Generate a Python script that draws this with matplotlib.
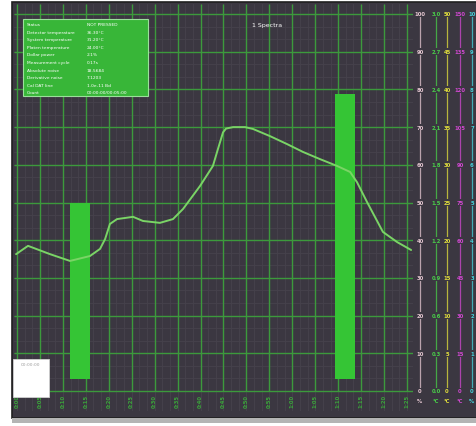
import matplotlib
matplotlib.use("Agg")
import matplotlib.pyplot as plt
from matplotlib.patches import Rectangle
from matplotlib.transforms import blended_transform_factory
import numpy as np

W, H = 477, 427

# trace read along the time axis (x = grid division, y = % of full scale)
curve_x = [-0.04, 0.48, 1.44, 2.31, 3.18, 3.62, 3.84, 4.05, 4.36, 5.06, 5.49, 6.23,
           6.80, 7.24, 7.98, 8.54, 8.76, 8.98, 9.11, 9.42, 9.94, 10.29, 11.03,
           11.77, 12.47, 13.21, 13.95, 14.52, 14.82, 15.26, 15.95, 16.57, 17.18]
curve_y = [36.3, 38.5, 36.3, 34.5, 35.8, 37.7, 40.3, 44.3, 45.6, 46.2, 45.1, 44.6,
           45.6, 48.3, 54.4, 59.7, 64.2, 68.6, 69.6, 70.0, 70.0, 69.5, 67.6,
           65.5, 63.4, 61.5, 59.7, 58.1, 55.4, 50.1, 42.2, 39.5, 37.4]

bar_pos = [2.75, 14.3]
bar_base = [3.2, 3.2]
bar_top = [50.0, 78.8]

x_ticks = list(range(18))
x_labels = ["0:%02d" % (5 * i) if 5 * i < 60 else "1:%02d" % (5 * i - 60) for i in x_ticks]

y_ticks = list(range(0, 101, 10))
scale_pct = [str(v) for v in range(0, 101, 10)]
scale_pwr = ["%.1f" % (0.3 * i) for i in range(11)]
scale_t1 = [str(5 * i) for i in range(11)]
scale_t2 = [str(15 * i) for i in range(11)]
scale_cyan = [str(i) for i in range(11)]

info_labels = ["Status", "Detector temperature", "System temperature",
               "Platen temperature", "Dollar power", "Measurement cycle",
               "Absolute noise", "Derivative noise", "Cal DAT line", "Count"]
info_values = ["NOT PRESSED", "36.30°C", "31.20°C", "24.00°C", "2.1%", "0.17s",
               "18.5684", "7.1203", "1.0e-11 Bd", "00:00:00/00:05:00"]

BG = "#3b3741"
GRID = "#3c9a3c"
BAR = "#35c535"
LINE = "#7ad466"

fig = plt.figure(figsize=(W / 100, H / 100), dpi=100)
fig.patch.set_facecolor("white")

def fbox(x0, y0, x1, y1):
    # pixel box (top-left origin) -> figure fraction rect
    return (x0 / W, 1 - y1 / H, (x1 - x0) / W, (y1 - y0) / H)

# dark panel and bottom strip
r = fbox(12, 3, 477, 419)
fig.patches.append(Rectangle(r[:2], r[2], r[3], transform=fig.transFigure,
                             facecolor=BG, edgecolor="#202020", lw=1.2, zorder=-10))
r = fbox(12, 419, 477, 424)
fig.patches.append(Rectangle(r[:2], r[2], r[3], transform=fig.transFigure,
                             facecolor="#b4b4b4", edgecolor="none", zorder=-10))

ax = fig.add_axes(fbox(14, 5, 413, 412))
ax.set_zorder(1)
ax.set_facecolor(BG)
x_per_px = 1 / 22.94
y_per_px = 1 / 3.77
ax.set_xlim(-3 * x_per_px, 17 + 6 * x_per_px)
ax.set_ylim(-(412 - 392) * y_per_px, 100 + (15 - 5) * y_per_px)
for s in ax.spines.values():
    s.set_visible(False)
ax.set_xticks([])
ax.set_yticks([])

# faint minor grid
for xm in np.arange(-0.0, 17.01, 1 / 3):
    ax.axvline(xm, color="#46424c", lw=0.6, zorder=1)
for ym in np.arange(0, 100.01, 10 / 3):
    ax.axhline(ym, color="#46424c", lw=0.6, zorder=1)

# major grid
ax.vlines(x_ticks, 0, ax.get_ylim()[1], color=GRID, lw=1.0, zorder=2)
ax.hlines(y_ticks, ax.get_xlim()[0], ax.get_xlim()[1], color=GRID, lw=1.0, zorder=2)

# bars
heights = [t - b for t, b in zip(bar_top, bar_base)]
ax.bar(bar_pos, heights, bottom=bar_base, width=0.87, color=BAR, zorder=3)

# trace
ax.plot(curve_x, curve_y, color=LINE, lw=1.4, zorder=4,
        solid_capstyle="round", solid_joinstyle="round")

# time labels under the grid
for xt, lab in zip(x_ticks, x_labels):
    ax.text(xt, -0.8, lab, rotation=90, ha="center", va="top", color="#3aa53a",
            fontsize=3.8, fontweight="bold", zorder=5)

ax.text(10.9, 100 - 11 * y_per_px, "1 Spectra", color="white", fontsize=4.5,
        ha="center", va="center", zorder=5)

# scales on the right
trans = blended_transform_factory(fig.transFigure, ax.transData)
scales = [(420, "#e6c8d2", scale_pct, "%"),
          (436, "#49cf49", scale_pwr, "°C"),
          (447, "#e3e03c", scale_t1, "°C"),
          (460, "#d248d2", scale_t2, "°C"),
          (472, "#45d3db", scale_cyan, "%")]
for px, col, labs, unit in scales:
    fig.add_artist(plt.Line2D([px / W, px / W], [0, 100], transform=trans,
                              color=col, lw=0.9, alpha=0.75))
    for yt, lab in zip(y_ticks, labs):
        fig.text(px / W, yt, lab, transform=trans, color=col, fontsize=3.8,
                 fontweight="bold", ha="center", va="center",
                 bbox=dict(facecolor=BG, edgecolor="none", pad=0.6))
    fig.text(px / W, -2.6, unit, transform=trans, color=col, fontsize=3.8,
             fontweight="bold", ha="center", va="center")

# status box
r = fbox(23, 20, 148, 97)
fig.patches.append(Rectangle(r[:2], r[2], r[3], transform=fig.transFigure,
                             facecolor="#38b638", edgecolor="#9be09b", lw=0.8, zorder=6))
for i, (lab, val) in enumerate(zip(info_labels, info_values)):
    yy = 1 - (25 + i * 7.6) / H
    fig.text(27 / W, yy, lab, color="white", fontsize=3.2, va="center", zorder=7)
    fig.text(87 / W, yy, val, color="white", fontsize=3.2, va="center", zorder=7)

# small overview box at bottom-left
r = fbox(13, 360, 49, 398)
fig.patches.append(Rectangle(r[:2], r[2], r[3], transform=fig.transFigure,
                             facecolor="white", edgecolor="#d0d0d0", lw=0.6, zorder=6))
fig.text(31 / W, 1 - 365 / H, "00:00:00", color="#a0a0a0", fontsize=3.2,
         ha="center", va="center", zorder=7)

fig.savefig("out.png", dpi=100, facecolor="white")
